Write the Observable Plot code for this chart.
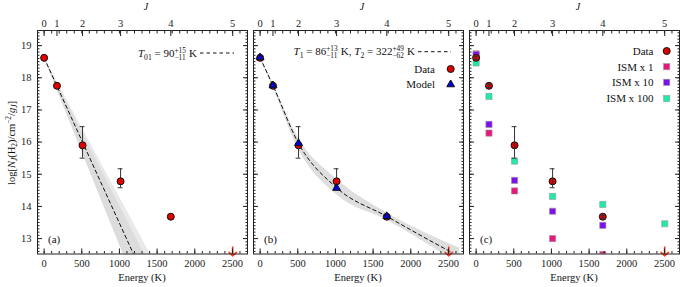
<!DOCTYPE html>
<html><head><meta charset="utf-8">
<script src="https://cdn.jsdelivr.net/npm/d3@7"></script>
<script src="https://cdn.jsdelivr.net/npm/@observablehq/plot@0.6"></script>
<style>
body{margin:0;background:#fff;}
#wrap{position:relative;width:688px;height:287px;}
#wrap svg{position:absolute;top:0;}
#wrap text{white-space:pre;}
</style></head><body><div id="wrap"></div>
<script>
// ---------- data ----------
const J = [0, 1, 2, 3, 4, 5];
const energyJ = [0, 170.5, 509.9, 1015.1, 1681.6, 2503.9];
const obsLogN = [18.62, 17.75, 15.90, 14.78, 13.68];
const obsErrLo = [18.57, 17.70, 15.50, 14.58, 13.63];
const obsErrHi = [18.67, 17.80, 16.48, 15.17, 13.73];
const limitJ5 = 12.74;
// panel (a): single-temperature fit
const fitA_E = [0, 1190];
const fitA_logN = [18.62, 12.5];
const bandA_E = [0, 1410];
const bandA_lo = [18.62, 10.43];
const bandA_hi = [18.62, 12.52];
const coreA_E = [0, 1330];
const coreA_lo = [18.62, 10.9];
const coreA_hi = [18.62, 12.52];
// panel (b): two-temperature model
const modelLogN = [18.63, 17.76, 15.96, 14.57, 13.69];
const fitB_E = [0, 170.5, 509.9, 1015.1, 1681.6, 2503.9, 2560];
const fitB_logN = [18.62, 17.76, 15.96, 14.58, 13.69, 12.62, 12.55];
const bandB_E = [0, 170.5, 509.9, 1015.1, 1681.6, 2650];
const bandB_lo = [18.59, 17.70, 15.78, 14.36, 13.57, 12.2];
const bandB_hi = [18.65, 17.82, 16.12, 14.85, 13.80, 12.7];
// panel (c): ISM models
const ism1 = [18.74, 16.28, 14.48, 13.00, 12.50, null];
const ism10 = [18.72, 16.55, 14.81, 13.85, 13.41, null];
const ism100 = [18.46, 17.42, 15.41, 14.31, 14.06, 13.46];
const seriesNames = ["Data", "ISM x 1", "ISM x 10", "ISM x 100"];

// ---------- style ----------
const FONT = '"Liberation Serif", "DejaVu Serif", serif';
const RED = "#e00000", BLUE = "#0000dd", ARROW = "#ff3b1f";
const ISM_COLORS = ["#e8177d", "#7d10ee", "#20eaa8"];
const xDomain = [-88, 2700], yDomain = [12.52, 19.47];
const xMajor = [0, 500, 1000, 1500, 2000, 2500];
const xMinor = d3.range(0, 28).map(i => i * 100);
const yMajor = [13, 14, 15, 16, 17, 18, 19];
const yMinor = d3.range(126, 195).map(v => v / 10);

const obs = obsLogN.map((v, i) => ({E: energyJ[i], logN: v, lo: obsErrLo[i], hi: obsErrHi[i]}));
const limit = [{E: energyJ[5], logN: limitJ5}];
const capHalf = 32;

function axes(showY) {
  const m = [
    Plot.frame({stroke: "#222", strokeWidth: 1}),
    Plot.axisX(xMinor, {anchor: "bottom", tickSize: -2.5, fill: "none", label: null}),
    Plot.axisX(xMajor, {anchor: "bottom", tickSize: -5, fill: "none", label: null}),
    Plot.axisX(xMajor, {anchor: "bottom", tickSize: 0, stroke: "none", tickPadding: 6, label: null, tickFormat: d => String(d), fontSize: 10.5}),
    Plot.axisX(xMinor, {anchor: "top", tickSize: -2.5, fill: "none", label: null}),
    Plot.axisX(energyJ, {anchor: "top", tickSize: -5, fill: "none", label: null}),
    Plot.axisX(energyJ, {anchor: "top", tickSize: 0, stroke: "none", tickPadding: 4, label: null, tickFormat: d => String(J[energyJ.indexOf(d)]), fontSize: 10.5}),
    Plot.axisY(yMinor, {anchor: "left", tickSize: -2.5, fill: "none", label: null}),
    Plot.axisY(yMajor, {anchor: "left", tickSize: -5, fill: "none", label: null}),
    Plot.axisY(yMinor, {anchor: "right", tickSize: -2.5, fill: "none", label: null}),
    Plot.axisY(yMajor, {anchor: "right", tickSize: -5, fill: "none", label: null})
  ];
  if (showY) m.push(Plot.axisY(yMajor, {anchor: "left", tickSize: 0, stroke: "none", tickPadding: 6, label: null, fontSize: 10.5}));
  return m;
}

const wrap = document.getElementById("wrap");
const W = [250, 216, 216], L = [0, 250, 466];
function panel(i, marks) {
  const p = Plot.plot({
    width: W[i], height: 287,
    marginLeft: i === 0 ? 37 : 3, marginRight: 3, marginTop: 30, marginBottom: 33.5,
    x: {domain: xDomain, axis: null},
    y: {domain: yDomain, axis: null},
    style: {fontFamily: FONT, fontSize: "10.5px", background: "transparent", color: "#222", overflow: "visible"},
    marks: [...marks, ...axes(i === 0)]
  });
  p.style.left = L[i] + "px";
  wrap.appendChild(p);
  return p;
}

const errMarks = (o) => [
  Plot.ruleX(obs, {x: "E", y1: "lo", y2: "hi", stroke: "#333", strokeWidth: 1, ...o}),
  Plot.ruleY(obs, {y: "lo", x1: d => d.E - capHalf, x2: d => d.E + capHalf, stroke: "#333", strokeWidth: 1, ...o}),
  Plot.ruleY(obs, {y: "hi", x1: d => d.E - capHalf, x2: d => d.E + capHalf, stroke: "#333", strokeWidth: 1, ...o})
];
const dataDots = Plot.dot(obs, {x: "E", y: "logN", r: 3.5, fill: RED, stroke: "#111", strokeWidth: 1});
const limitArrow = Plot.vector(limit, {x: "E", y: "logN", length: 9, rotate: 180, anchor: "start", r: 7, stroke: ARROW, strokeWidth: 1.6});

// panel (a)
const bandA = bandA_E.map((e, i) => ({E: e, lo: bandA_lo[i], hi: bandA_hi[i]}));
const coreA = coreA_E.map((e, i) => ({E: e, lo: coreA_lo[i], hi: coreA_hi[i]}));
const fitA = fitA_E.map((e, i) => ({E: e, logN: fitA_logN[i]}));
panel(0, [
  Plot.areaY(bandA, {x: "E", y1: "lo", y2: "hi", fill: "#e9e9e9", clip: true}),
  Plot.areaY(coreA, {x: "E", y1: "lo", y2: "hi", fill: "#dcdcdc", clip: true}),
  Plot.line(fitA, {x: "E", y: "logN", stroke: "#111", strokeWidth: 1, strokeDasharray: "3.5,3", clip: true}),
  ...errMarks({}),
  dataDots,
  limitArrow
]);

// panel (b)
const bandB = bandB_E.map((e, i) => ({E: e, lo: bandB_lo[i], hi: bandB_hi[i]}));
const fitB = fitB_E.map((e, i) => ({E: e, logN: fitB_logN[i]}));
const model = modelLogN.map((v, i) => ({E: energyJ[i], logN: v}));
panel(1, [
  Plot.areaY(bandB, {x: "E", y1: "lo", y2: "hi", fill: "#dedede", curve: "monotone-x", clip: true}),
  Plot.line(fitB, {x: "E", y: "logN", stroke: "#111", strokeWidth: 1, strokeDasharray: "3.5,3", curve: "monotone-x", clip: true}),
  ...errMarks({}),
  dataDots,
  Plot.dot(model, {x: "E", y: "logN", symbol: "triangle", r: 2.9, fill: BLUE, stroke: "#111", strokeWidth: 1}),
  limitArrow
]);

// panel (c)
const ismRows = [];
[ism1, ism10, ism100].forEach((arr, k) => arr.forEach((v, i) => { if (v != null) ismRows.push({E: energyJ[i], logN: v, s: seriesNames[k + 1]}); }));
panel(2, [
  Plot.dot(ismRows, {x: "E", y: "logN", symbol: "square", r: 3.5, fill: d => ISM_COLORS[seriesNames.indexOf(d.s) - 1], stroke: "#999", strokeWidth: 0.6, clip: true}),
  dataDots,
  ...errMarks({}),
  limitArrow
]);

// ---------- overlay text / legends ----------
const ov = d3.select(wrap).append("svg").attr("width", 688).attr("height", 287)
  .style("left", "0px").style("pointer-events", "none").attr("font-family", FONT).attr("fill", "#111");

function rich(g, segs, size) {
  let x = 0;
  for (const s of segs) {
    if (s.stack) {
      const fs = size * 0.66;
      const a = g.append("text").attr("x", x).attr("y", -size * 0.36).attr("font-size", fs).text(s.stack[0]);
      const b = g.append("text").attr("x", x).attr("y", size * 0.3).attr("font-size", fs).text(s.stack[1]);
      x += Math.max(a.node().getComputedTextLength(), b.node().getComputedTextLength()) + 0.5;
    } else {
      const small = s.sub || s.sup;
      const t = g.append("text").attr("x", x)
        .attr("y", s.sub ? size * 0.28 : s.sup ? -size * 0.38 : 0)
        .attr("font-size", small ? size * 0.7 : size)
        .attr("font-style", s.it ? "italic" : null).text(s.t);
      x += t.node().getComputedTextLength();
    }
  }
  return x;
}
function richRight(xRight, yBase, segs, size) {
  const g = ov.append("g");
  const w = rich(g, segs, size);
  g.attr("transform", `translate(${xRight - w},${yBase})`);
}

// y label
{
  const g = ov.append("g");
  const inner = g.append("g");
  const w = rich(inner, [{t: "log["}, {t: "N", it: true}, {t: "J", it: true, sub: true}, {t: "(H"}, {t: "2", sub: true}, {t: ")/cm"}, {t: "−2", sup: true}, {t: "/"}, {t: "g", it: true}, {t: "J", it: true, sub: true}, {t: "]"}], 10.5);
  inner.attr("transform", `translate(${-w / 2},0)`);
  g.attr("transform", "translate(14.5,143) rotate(-90)");
}
// axis titles and panel tags
const frames = [[37, 247], [253, 463], [469, 679]];
["(a)", "(b)", "(c)"].forEach((tag, i) => {
  const cx = (frames[i][0] + frames[i][1]) / 2;
  ov.append("text").attr("x", cx).attr("y", 281).attr("text-anchor", "middle").attr("font-size", 10.5).text("Energy (K)");
  ov.append("text").attr("x", cx + 4).attr("y", 10).attr("text-anchor", "middle").attr("font-size", 10).attr("font-style", "italic").text("J");
  ov.append("text").attr("x", frames[i][0] + 11).attr("y", 243).attr("font-size", 11).text(tag);
});

function dashSample(x1, x2, y) {
  ov.append("line").attr("x1", x1).attr("x2", x2).attr("y1", y).attr("y2", y)
    .attr("stroke", "#111").attr("stroke-width", 1).attr("stroke-dasharray", "3.5,3");
}
// panel (a) legend
richRight(197, 56.5, [{t: "T", it: true}, {t: "01", sub: true}, {t: " = 90"}, {stack: ["+15", "−11"]}, {t: " K"}], 11);
dashSample(200, 234, 53);
// panel (b) legend
richRight(415, 55, [{t: "T", it: true}, {t: "1", sub: true}, {t: " = 86"}, {stack: ["+13", "−11"]}, {t: " K, "}, {t: "T", it: true}, {t: "2", sub: true}, {t: " = 322"}, {stack: ["+49", "−62"]}, {t: " K"}], 11);
dashSample(418, 451, 51.7);
function legendLabel(xRight, y, label) {
  ov.append("text").attr("x", xRight).attr("y", y + 3.8).attr("text-anchor", "end").attr("font-size", 11).text(label);
}
function legendCircle(x, y) {
  ov.append("circle").attr("cx", x).attr("cy", y).attr("r", 3.5).attr("fill", RED).attr("stroke", "#111").attr("stroke-width", 1);
}
legendLabel(435, 69, "Data"); legendCircle(450.7, 69);
legendLabel(435, 84.5, "Model");
ov.append("path").attr("d", d3.symbol(d3.symbolTriangle, Math.PI * 2.9 * 2.9)()).attr("transform", "translate(450.7,84.5)")
  .attr("fill", BLUE).attr("stroke", "#111").attr("stroke-width", 1);
// panel (c) legend
const legY = [51, 66.7, 82.3, 98.5];
seriesNames.forEach((name, k) => {
  legendLabel(653.5, legY[k], name);
  if (k === 0) legendCircle(666.7, legY[k]);
  else ov.append("rect").attr("x", 666.7 - 3.1).attr("y", legY[k] - 3.1).attr("width", 6.2).attr("height", 6.2)
    .attr("fill", ISM_COLORS[k - 1]).attr("stroke", "#999").attr("stroke-width", 0.6);
});
</script></body></html>
